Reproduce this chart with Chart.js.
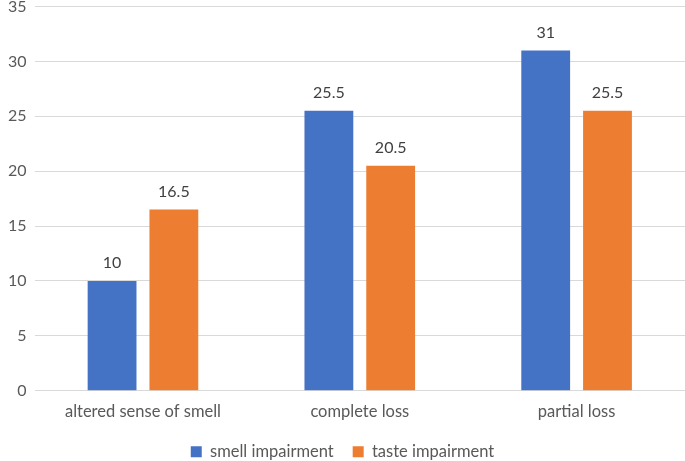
<!DOCTYPE html>
<html lang="en">
<head>
  <meta charset="UTF-8">
  <title>Smell and taste impairment</title>
  <script src="https://cdn.jsdelivr.net/npm/chart.js"></script>
  <style>
    html, body { margin: 0; padding: 0; background: #fff; overflow: hidden; }
    .contenedor { width: 685px; height: 472px; margin-top: -11px; }
  </style>
</head>
<body>
  <div class="contenedor">
    <canvas id="grafico"></canvas>
  </div>

  <script>
    const categorias = ['altered sense of smell', 'complete loss', 'partial loss'];
    const olfato = [10, 25.5, 31];
    const gusto = [16.5, 20.5, 25.5];
    const ticksY = [0, 5, 10, 15, 20, 25, 30, 35];

    const fuente = "Lato, 'Open Sans', sans-serif";
    const gris = '#595959';

    // etiquetas encima de cada barra
    const etiquetas = {
      id: 'etiquetas',
      afterDatasetsDraw(chart) {
        const ctx = chart.ctx;
        ctx.save();
        ctx.font = '16px ' + fuente;
        ctx.fillStyle = '#404040';
        ctx.textAlign = 'center';
        ctx.textBaseline = 'bottom';
        chart.data.datasets.forEach((ds, i) => {
          chart.getDatasetMeta(i).data.forEach((bar, j) => {
            ctx.fillText(ds.data[j], bar.x, bar.y - 10);
          });
        });
        ctx.restore();
      }
    };

    const chart = new Chart(document.getElementById('grafico').getContext('2d'), {
      type: 'bar',
      data: {
        labels: categorias,
        datasets: [
          { label: 'smell impairment', data: olfato, backgroundColor: '#4472C4' },
          { label: 'taste impairment', data: gusto, backgroundColor: '#ED7D31' }
        ]
      },
      options: {
        responsive: true,
        maintainAspectRatio: false,
        animation: false,
        categoryPercentage: 0.57,
        barPercentage: 0.79,
        layout: { padding: { top: 0, right: 0, left: 0, bottom: -9 } },
        scales: {
          x: {
            grid: { display: false },
            border: { display: false },
            ticks: { color: gris, font: { family: fuente, size: 16.5 }, padding: 3 }
          },
          y: {
            min: 0,
            max: 35,
            afterBuildTicks(axis) { axis.ticks = ticksY.map(v => ({ value: v })); },
            grid: { color: '#d9d9d9', lineWidth: 1, drawTicks: false },
            border: { display: false },
            ticks: { color: gris, font: { family: fuente, size: 16 }, padding: 8 }
          }
        },
        plugins: {
          legend: {
            position: 'bottom',
            labels: {
              color: gris,
              font: { family: fuente, size: 16.5 },
              boxWidth: 11,
              boxHeight: 11,
              padding: 19
            }
          },
          tooltip: { enabled: false }
        }
      },
      plugins: [etiquetas]
    });
  </script>
</body>
</html>
